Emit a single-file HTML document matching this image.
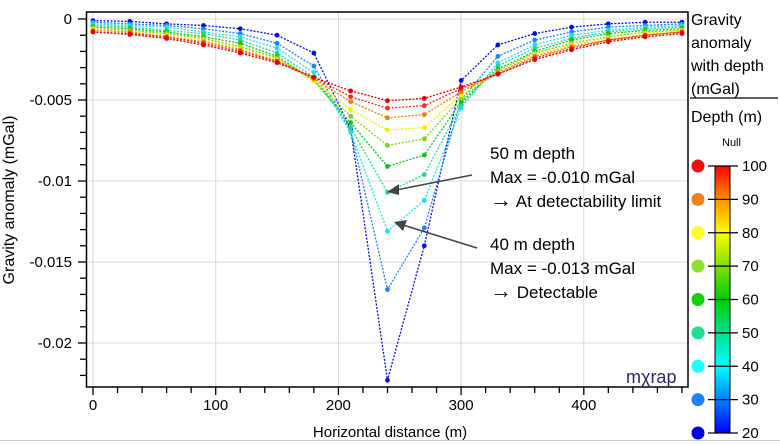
<!DOCTYPE html>
<html><head><meta charset="utf-8"><style>
html,body{margin:0;padding:0;background:#fff;}
svg{display:block;font-family:"Liberation Sans",Arial,sans-serif;}
</style></head><body>
<svg id="chart" width="780" height="444" viewBox="0 0 780 444">
<g id="grid"></g>
<g id="series"></g>
<rect x="86.5" y="12" width="601.5" height="375" fill="none" stroke="#000" stroke-width="1.5"/>
<g id="axes"></g>
<text x="14" y="200" transform="rotate(-90 14 200)" text-anchor="middle" font-size="16">Gravity anomaly (mGal)</text>
<text x="390" y="437" text-anchor="middle" font-size="15">Horizontal distance (m)</text>
<line x1="0" y1="440.5" x2="780" y2="440.5" stroke="#ccc"/>
<text x="626" y="383" font-size="18" fill="#2a2a66">mχrap</text>
<g font-size="17">
<text x="490" y="159">50 m depth</text>
<text x="490" y="183">Max = -0.010 mGal</text>
<text x="490" y="207"><tspan font-size="22">→</tspan> At detectability limit</text>
<line x1="472" y1="175" x2="396" y2="190" stroke="#444" stroke-width="1.5"/>
<polygon points="387,192 399,184 399,195" fill="#444"/>
</g>
<g font-size="17">
<text x="490" y="250">40 m depth</text>
<text x="490" y="274">Max = -0.013 mGal</text>
<text x="490" y="298"><tspan font-size="22">→</tspan> Detectable</text>
<line x1="477" y1="248" x2="403" y2="225" stroke="#444" stroke-width="1.5"/>
<polygon points="394,222 407,220 403,231" fill="#444"/>
</g>
<g font-size="16">
<text x="691" y="25">Gravity</text>
<text x="691" y="48">anomaly</text>
<text x="691" y="71">with depth</text>
<text x="691" y="94">(mGal)</text>
<line x1="690" y1="98" x2="778" y2="98" stroke="#000" stroke-width="1.2"/>
<text x="691" y="122">Depth (m)</text>
<text x="722" y="146" font-size="11">Null</text>
<defs><linearGradient id="cb" x1="0" y1="1" x2="0" y2="0">
<stop offset="0" stop-color="#0000ff"/><stop offset="0.125" stop-color="#0080ff"/>
<stop offset="0.25" stop-color="#00ffff"/><stop offset="0.375" stop-color="#00e090"/>
<stop offset="0.5" stop-color="#00d000"/><stop offset="0.625" stop-color="#80e000"/>
<stop offset="0.75" stop-color="#ffff00"/><stop offset="0.875" stop-color="#ff9000"/>
<stop offset="1" stop-color="#ff0000"/></linearGradient></defs>
<rect x="715" y="166" width="15" height="267" fill="url(#cb)" stroke="#000"/>
<g id="legend"></g>
</g>
</svg>
<script>
const xs = [0,30,60,90,120,150,180,210,240,270,300,330,360,390,420,450,480];
const depths = [20,30,40,50,60,70,80,90,100,110];
const colors = ["#0010d0","#2080f0","#20e0f0","#20d890","#10c020","#80d020","#f0f000","#f08000","#f03020","#e00000"];
const s20 = [-0.0001,-0.00015,-0.0003,-0.0004,-0.0006,-0.001,-0.0021,-0.0068,-0.0223,-0.014,-0.0038,-0.0016,-0.0009,-0.0005,-0.0003,-0.0002,-0.0002];
const s30 = [-0.0002,-0.0003,-0.0004,-0.0006,-0.0009,-0.0015,-0.0029,-0.0069,-0.0167,-0.0129,-0.005,-0.0023,-0.0013,-0.0008,-0.0005,-0.0004,-0.0003];
const s40 = [-0.0003,-0.0004,-0.0005,-0.0008,-0.0011,-0.0018,-0.0033,-0.007,-0.0131,-0.0112,-0.0055,-0.0027,-0.0016,-0.001,-0.0007,-0.0005,-0.0004];
const s50 = [-0.0004,-0.0005,-0.0007,-0.0009,-0.0013,-0.0021,-0.0036,-0.0067,-0.0107,-0.0096,-0.0053,-0.0029,-0.0018,-0.0012,-0.0008,-0.0006,-0.0005];
const s60 = [-0.0005,-0.0006,-0.0008,-0.0011,-0.0015,-0.0023,-0.0038,-0.0064,-0.0091,-0.0084,-0.0051,-0.0031,-0.002,-0.0013,-0.0009,-0.0007,-0.0006];
const s70 = [-0.0006,-0.0007,-0.0009,-0.0012,-0.0017,-0.0024,-0.0038,-0.006,-0.0078,-0.0074,-0.0049,-0.0032,-0.0021,-0.0015,-0.0011,-0.0008,-0.0007];
const s80 = [-0.0006,-0.0008,-0.001,-0.0013,-0.0018,-0.0025,-0.0038,-0.0056,-0.00685,-0.0067,-0.0047,-0.0033,-0.0022,-0.0016,-0.0012,-0.0009,-0.0007];
const s90 = [-0.0007,-0.0008,-0.0011,-0.0014,-0.0019,-0.0026,-0.0037,-0.0051,-0.0061,-0.0059,-0.0045,-0.0033,-0.0023,-0.0017,-0.0013,-0.001,-0.0008];
const s100 = [-0.0008,-0.0009,-0.0011,-0.0015,-0.002,-0.0026,-0.0036,-0.0048,-0.0055,-0.00535,-0.0043,-0.0034,-0.0024,-0.0018,-0.0013,-0.001,-0.0008];
const s110 = [-0.0008,-0.00095,-0.0012,-0.0016,-0.0021,-0.0027,-0.0036,-0.00444,-0.00504,-0.0049,-0.0042,-0.0034,-0.0025,-0.0019,-0.0014,-0.0011,-0.0009];
const seriesVals = [s20,s30,s40,s50,s60,s70,s80,s90,s100,s110];
const xTicks = [0,100,200,300,400];
const yTicks = [0,-0.005,-0.01,-0.015,-0.02];
const yTickLabels = ["0","-0.005","-0.01","-0.015","-0.02"];
const legendDepths = [100,90,80,70,60,50,40,30,20];
const legendColors = ["#ee1111","#f08020","#ffff20","#90e030","#10d010","#20e090","#20ffff","#2080ff","#0000dd"];

const NS="http://www.w3.org/2000/svg";
function X(v){return 93 + v*1.227;}
function Y(v){return 19 - v*16200;}
function CB(d){return 433 - (d-20)*(267/80);}
function mk(tag,attrs,parent){const e=document.createElementNS(NS,tag);for(const k in attrs)e.setAttribute(k,attrs[k]);parent.appendChild(e);return e;}
const grid=document.getElementById('grid'),axes=document.getElementById('axes'),ser=document.getElementById('series'),leg=document.getElementById('legend');

xTicks.forEach(t=>{
  const g=mk('line',{x1:X(t),x2:X(t),y1:12,y2:387,stroke:'#d8d8d8'},grid);
  
  
  const l=mk('text',{x:X(t),y:410,'text-anchor':'middle','font-size':15},axes);
  l.textContent=t;
  
  
});
for(let t=0;t<=480;t+=20){
  const tk=mk('line',{x1:X(t),x2:X(t),y1:387,y2:t%100===0?395:393,stroke:'#000','stroke-width':1.3},axes);
  
  
}
yTicks.forEach((t,i)=>{
  const g=mk('line',{x1:86,x2:688,y1:Y(t),y2:Y(t),stroke:'#d8d8d8'},grid);
  
  
  const l=mk('text',{x:72,y:Y(t)+5,'text-anchor':'end','font-size':15},axes);
  l.textContent=yTickLabels[i];
  
  
});
for(let k=0;k<=22;k++){
  const v=-k*0.001;
  const tk=mk('line',{x1:k%5===0?78:80,x2:86,y1:Y(v),y2:Y(v),stroke:'#000','stroke-width':1.3},axes);
  
  
}
seriesVals.forEach((vals,si)=>{
  const g=mk('g',{},ser);
  
  
  const pts=vals.map((v,i)=>X(xs[i])+','+Y(v)).join(' ');
  const pl=mk('polyline',{points:pts,fill:'none',stroke:colors[si],'stroke-width':1.3,'stroke-dasharray':'2 1.5'},g);
  
  
  vals.forEach((v,i)=>{
    const c=mk('circle',{cx:X(xs[i]),cy:Y(v),r:2.4,fill:colors[si]},g);
    
    
  });
});
legendDepths.forEach((d,i)=>{
  const y=CB(d);
  const c=mk('circle',{cx:698,cy:y,r:6.5,fill:legendColors[i]},leg);
  
  
  const ln=mk('line',{x1:708,x2:738,y1:y,y2:y,stroke:'#000','stroke-width':1.3},leg);
  
  
  const t=mk('text',{x:742,y:y+5,'font-size':15},leg);
  t.textContent=d;
  
  
});
</script>
</body></html>
